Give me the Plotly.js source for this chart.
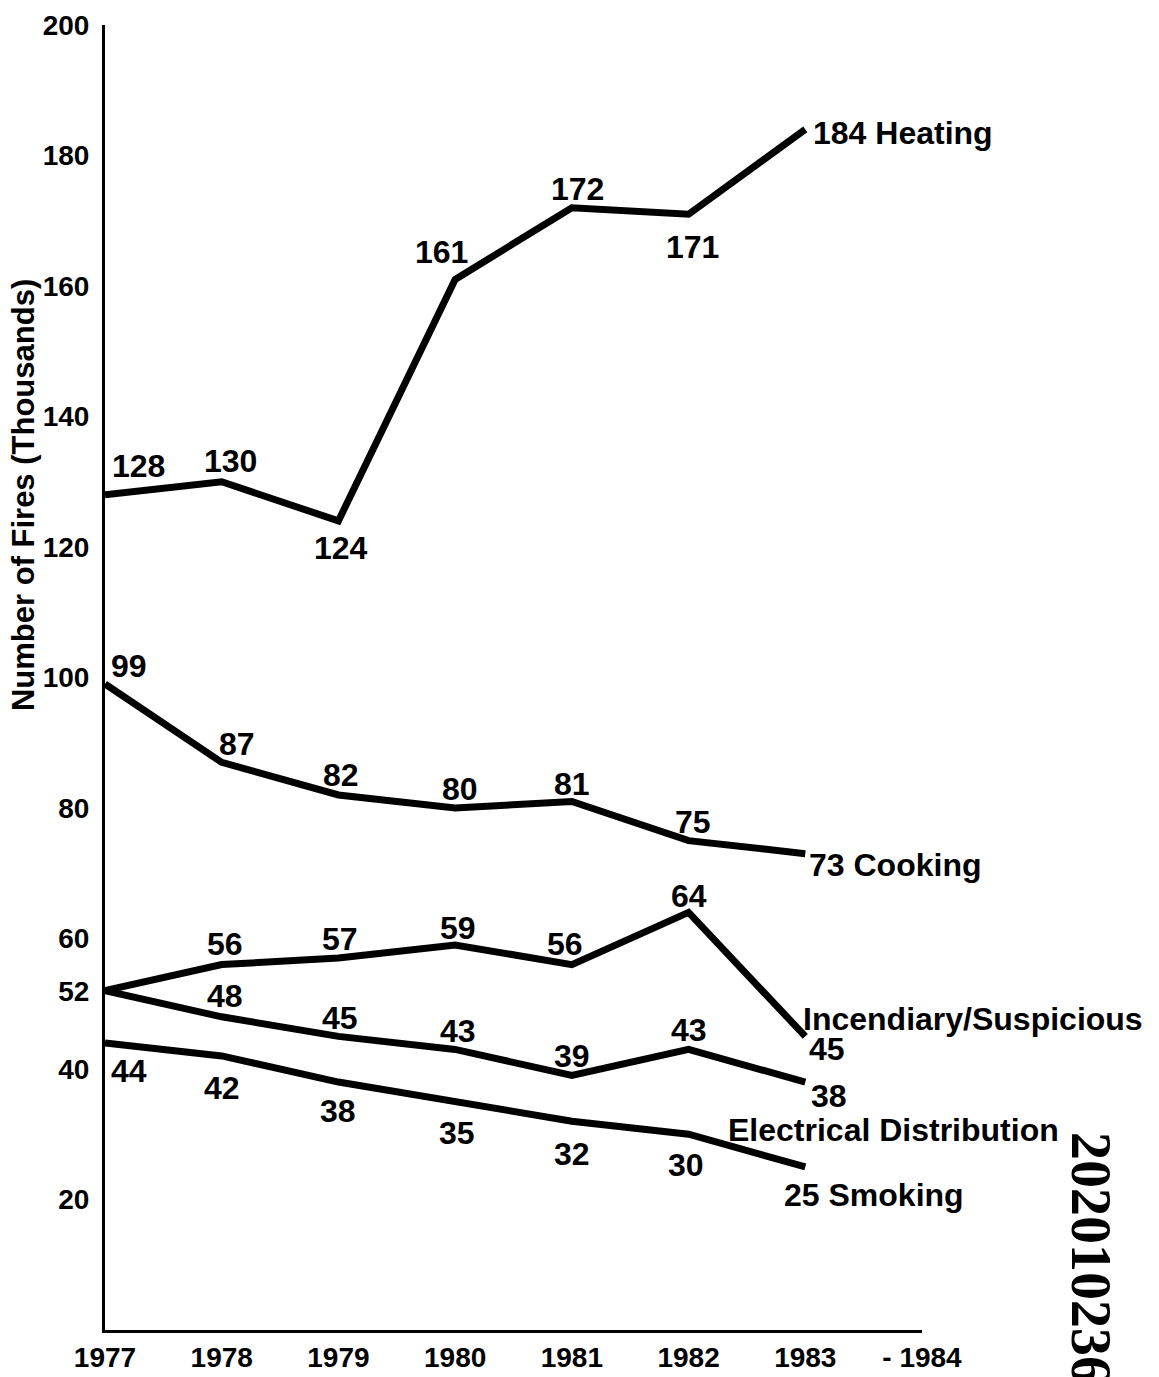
<!DOCTYPE html>
<html>
<head>
<meta charset="utf-8">
<script src="https://cdn.plot.ly/plotly-3.0.1.min.js"></script>
<style>html,body{margin:0;padding:0;background:#fff;}#chart{width:1159px;height:1377px;}</style>
</head>
<body>
<div id="chart"></div>
<script>
// ---- data ----
var years = [1977, 1978, 1979, 1980, 1981, 1982, 1983];
var heating = [128, 130, 124, 161, 172, 171, 184];
var cooking = [99, 87, 82, 80, 81, 75, 73];
var incendiary = [52, 56, 57, 59, 56, 64, 45];
var electrical = [52, 48, 45, 43, 39, 43, 38];
var smoking = [44, 42, 38, 35, 32, 30, 25];
var seriesNames = ["Heating", "Cooking", "Incendiary/Suspicious", "Electrical Distribution", "Smoking"];
var yTickVals = [20, 40, 52, 60, 80, 100, 120, 140, 160, 180, 200];
var xTickVals = [1977, 1978, 1979, 1980, 1981, 1982, 1983, 1984];
var xTickText = ["1977", "1978", "1979", "1980", "1981", "1982", "1983", "- 1984"];
var yTitle = "Number of Fires (Thousands)";
var watermark = "202010236";

// ---- label placement (pixel offsets, style only) ----
var series = [
  {y: heating, name: seriesNames[0], combined: true,
   dx: [33, 9, 3, -14, 6, 4, 7], dy: [29, 21, -27, 27, 19, -33, -4]},
  {y: cooking, name: seriesNames[1], combined: true,
   dx: [24, 15, 3, 5, 0, 4, 3], dy: [18, 18, 20, 19, 17, 19, -11]},
  {y: incendiary, name: seriesNames[2], combined: false, skipFirst: true,
   dx: [0, 3, 2, 3, -7, 0, 3], dy: [0, 21, 19, 17, 21, 16, -13],
   nameDx: -3, nameDy: 17},
  {y: electrical, name: seriesNames[3], combined: false, skipFirst: true,
   dx: [0, 3, 2, 3, 0, 0, 5], dy: [0, 21, 18, 18, 20, 19, -14],
   nameDx: -78, nameDy: -48},
  {y: smoking, name: seriesNames[4], combined: true,
   dx: [24, 0, 0, 2, 0, -3, -22], dy: [-28, -32, -29, -31, -33, -31, -28]}
];

var labelFont = {family: "Liberation Sans, Arial, sans-serif", size: 32, color: "#000", weight: "bold"};

var traces = [];
var annotations = [];
series.forEach(function (s) {
  traces.push({
    x: years, y: s.y, type: "scatter", mode: "lines", name: s.name,
    line: {color: "#000", width: 7}, hoverinfo: "x+y"
  });
  var last = s.y.length - 1;
  s.y.forEach(function (v, i) {
    if (i === 0 && s.skipFirst) return;
    var isLast = i === last;
    var txt = String(v);
    if (isLast && s.combined) txt = v + " " + s.name;
    annotations.push({
      x: years[i], y: v, xref: "x", yref: "y", text: txt, showarrow: false,
      xanchor: isLast ? "left" : "center", yanchor: "middle",
      xshift: s.dx[i], yshift: s.dy[i], font: labelFont, borderpad: 0
    });
    if (isLast && !s.combined) {
      annotations.push({
        x: years[i], y: v, xref: "x", yref: "y", text: s.name, showarrow: false,
        xanchor: "left", yanchor: "middle",
        xshift: s.nameDx, yshift: s.nameDy, font: labelFont, borderpad: 0
      });
    }
  });
});

// y-axis title (placed above the axis centre, as in the reference)
annotations.push({
  x: -0.1, y: 0.64, xref: "paper", yref: "paper", text: yTitle,
  showarrow: false, textangle: -90, xanchor: "center", yanchor: "middle",
  font: {family: "Liberation Sans, Arial, sans-serif", size: 31, color: "#000", weight: "bold"}
});

annotations.push({
  x: 1.207, y: 0.055, xref: "paper", yref: "paper", text: watermark,
  showarrow: false, textangle: 90, xanchor: "center", yanchor: "middle",
  font: {family: "Liberation Serif, Times New Roman, serif", size: 56, color: "#000", weight: "bold"}
});

var layout = {
  width: 1159, height: 1377,
  paper_bgcolor: "#fff", plot_bgcolor: "#fff",
  showlegend: false,
  margin: {l: 105, r: 237, t: 25, b: 47},
  xaxis: {
    range: [1977, 1984], tickmode: "array", tickvals: xTickVals, ticktext: xTickText,
    showgrid: false, zeroline: false, showline: true, linecolor: "#000", linewidth: 3,
    ticks: "", ticklen: 0,
    tickfont: {family: "Liberation Sans, Arial, sans-serif", size: 28, color: "#000", weight: "bold"}
  },
  yaxis: {
    range: [0, 200], tickmode: "array", tickvals: yTickVals,
    showgrid: false, zeroline: false, showline: true, linecolor: "#000", linewidth: 3,
    ticks: "outside", ticklen: 7, tickcolor: "rgba(0,0,0,0)",
    tickfont: {family: "Liberation Sans, Arial, sans-serif", size: 28, color: "#000", weight: "bold"}
  },
  annotations: annotations
};

Plotly.newPlot("chart", traces, layout, {displayModeBar: false, staticPlot: true});
</script>
</body>
</html>
